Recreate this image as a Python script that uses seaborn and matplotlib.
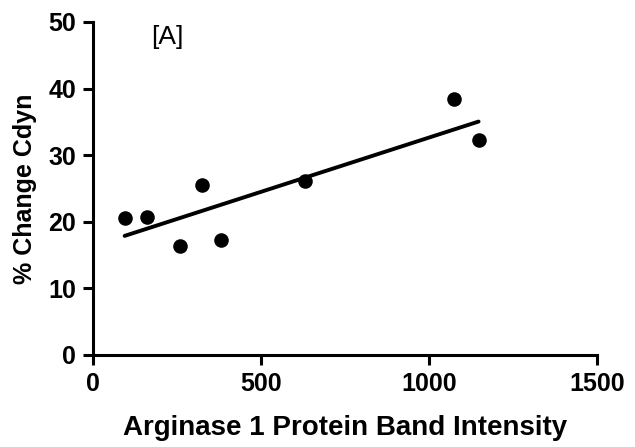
import matplotlib
matplotlib.use("Agg")
import matplotlib.pyplot as plt
import seaborn as sns
import pandas as pd

intensity = [95, 163, 261, 326, 381, 631, 1075, 1148]
pct_change = [20.6, 20.7, 16.3, 25.5, 17.3, 26.1, 38.4, 32.2]
x_ticks = [0, 500, 1000, 1500]
y_ticks = [0, 10, 20, 30, 40, 50]

sns.set_theme(style="ticks")
plt.rcParams['font.family'] = ['Liberation Sans', 'DejaVu Sans']
plt.rcParams['text.color'] = 'black'
plt.rcParams['axes.labelcolor'] = 'black'

df = pd.DataFrame({"x": intensity, "y": pct_change})

fig = plt.figure(figsize=(6.35, 4.47), dpi=100)
ax = fig.add_axes([0.146, 0.206, 0.794, 0.745])
sns.regplot(data=df, x="x", y="y", ax=ax, ci=None, truncate=True, color="black",
            scatter_kws={"s": 110, "linewidths": 0, "alpha": 1},
            line_kws={"linewidth": 2.8})
ax.set_xlim(0, 1500)
ax.set_ylim(0, 50)
ax.set_xticks(x_ticks)
ax.set_yticks(y_ticks)
ax.set_xticklabels([str(t) for t in x_ticks], fontsize=18, fontweight="bold")
ax.set_yticklabels([str(t) for t in y_ticks], fontsize=18, fontweight="bold")
ax.set_xlabel("Arginase 1 Protein Band Intensity", fontsize=20, fontweight="bold", labelpad=14)
ax.set_ylabel("% Change Cdyn", fontsize=18, fontweight="bold", labelpad=8)
for s in ["top", "right"]:
    ax.spines[s].set_visible(False)
for s in ["left", "bottom"]:
    ax.spines[s].set_linewidth(2.2)
    ax.spines[s].set_color("black")
ax.tick_params(axis="both", direction="out", length=7, width=2.2, colors="black", pad=5)
ax.text(223, 47.7, "[A]", fontsize=19, ha="center", va="center")
fig.savefig("out.png", dpi=100)
